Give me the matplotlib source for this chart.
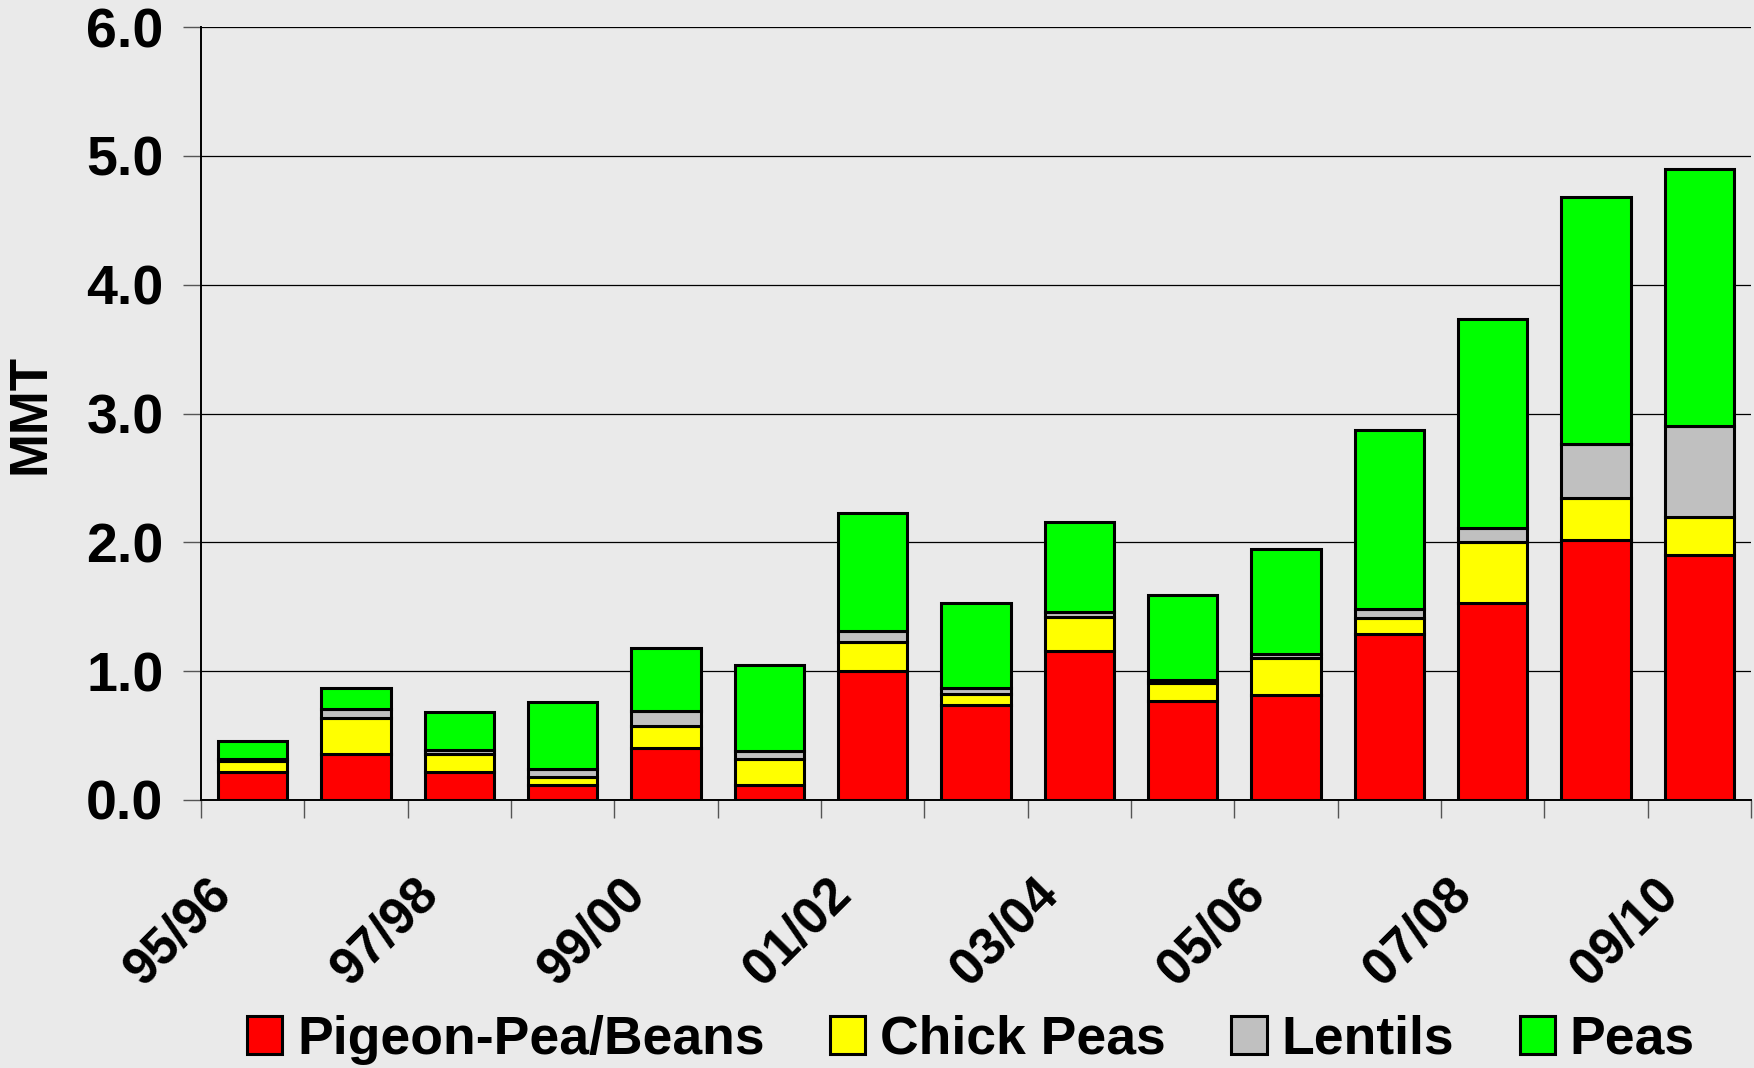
import matplotlib
matplotlib.use("Agg")
import matplotlib.pyplot as plt
import numpy as np
from matplotlib.transforms import ScaledTranslation

plt.rcParams['font.family'] = ['Liberation Sans', 'DejaVu Sans']
plt.rcParams['font.weight'] = 'bold'

years = ["95/96", "96/97", "97/98", "98/99", "99/00", "00/01", "01/02", "02/03",
         "03/04", "04/05", "05/06", "06/07", "07/08", "08/09", "09/10"]
# component values (MMT)
pigeon = [0.22, 0.355, 0.22, 0.12, 0.40, 0.12, 1.00, 0.735, 1.16, 0.77, 0.815, 1.29, 1.53, 2.02, 1.90]
chick  = [0.08, 0.285, 0.135, 0.056, 0.175, 0.20, 0.23, 0.085, 0.26, 0.135, 0.285, 0.125, 0.47, 0.325, 0.30]
lentil = [0.02, 0.07, 0.035, 0.064, 0.115, 0.06, 0.08, 0.05, 0.036, 0.025, 0.035, 0.065, 0.11, 0.415, 0.70]
peas   = [0.14, 0.16, 0.29, 0.52, 0.49, 0.67, 0.92, 0.66, 0.704, 0.66, 0.815, 1.39, 1.62, 1.92, 2.00]

series_names = ["Pigeon-Pea/Beans", "Chick Peas", "Lentils", "Peas"]
series_vals = [pigeon, chick, lentil, peas]
colors = ["#FF0000", "#FFFF00", "#C0C0C0", "#00FF00"]

W, H = 1754, 1068
fig = plt.figure(figsize=(W / 100, H / 100), dpi=100)
bg = "#EAEAEA"
fig.patch.set_facecolor(bg)
ax = fig.add_axes([201 / W, 1 - 800 / H, 1550 / W, 773 / H])
ax.set_facecolor(bg)

x = np.arange(len(years))
bottom = np.zeros(len(years))
handles = []
for name, vals, c in zip(series_names, series_vals, colors):
    v = np.array(vals)
    b = ax.bar(x, v, bottom=bottom, width=0.67, color=c, edgecolor="black",
               linewidth=2.2, label=name, zorder=3)
    handles.append(b)
    bottom += v

ax.set_xlim(-0.5, len(years) - 0.5)
ax.set_ylim(0, 6)
ax.set_yticks(np.arange(0, 6.01, 1.0))
ax.set_yticklabels([f"{t:.1f}" for t in np.arange(0, 6.01, 1.0)], fontsize=40, fontweight="bold")
ax.yaxis.grid(True, color="black", linewidth=0.9, zorder=0)
ax.set_axisbelow(True)

for s in ["top", "right"]:
    ax.spines[s].set_visible(False)
ax.spines["left"].set_color("black")
ax.spines["left"].set_linewidth(1.4)
ax.spines["bottom"].set_color("black")
ax.spines["bottom"].set_linewidth(1.4)

ax.tick_params(axis="y", length=13, width=1, color="#555555", pad=14)

# x labels every other year, ticks at category boundaries
ax.set_xticks(x[::2])
ax.set_xticklabels(years[::2], fontsize=37, fontweight="bold", rotation=45,
                   ha="center", va="top")
ax.tick_params(axis="x", which="major", length=0, pad=50)
ax.set_xticks(np.arange(-0.5, len(years), 1.0), minor=True)
ax.tick_params(axis="x", which="minor", length=13, width=1, color="#555555")
offset = ScaledTranslation(-0.74, 0, fig.dpi_scale_trans)
for lab in ax.get_xticklabels():
    lab.set_transform(lab.get_transform() + offset)

fig.text(31 / W, 1 - 414 / H, "MMT", rotation=90, ha="center", va="center",
         fontsize=38, fontweight="bold")

fig.legend(handles=handles, labels=series_names, loc="center", ncol=4,
           bbox_to_anchor=(971 / W, 1 - 1040 / H), frameon=False,
           prop={"size": 38.5, "weight": "bold"}, handlelength=0.66,
           handleheight=0.72, handletextpad=0.28, columnspacing=1.22)

fig.savefig("out.png", dpi=100, facecolor=bg)
